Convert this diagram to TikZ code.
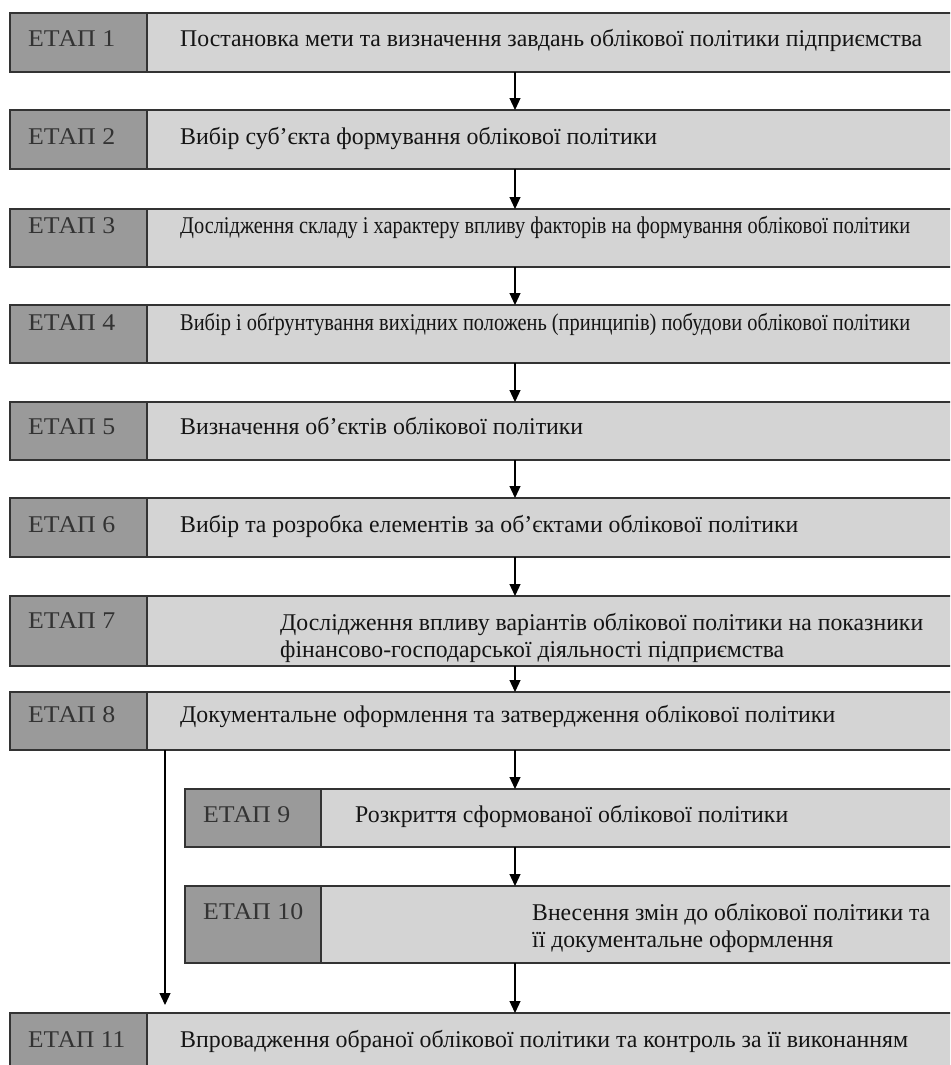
\documentclass[tikz,border=0pt]{standalone}
\usepackage{fontspec}
\setmainfont{Liberation Serif}
\usetikzlibrary{arrows.meta}
\definecolor{darkC}{HTML}{9A9A9A}
\definecolor{lightC}{HTML}{D4D4D4}
\definecolor{lineC}{HTML}{333333}
\newcommand\fitw[2]{\resizebox{#1pt}{\height}{#2}}
\begin{document}
\begin{tikzpicture}[x=1pt,y=-1pt,
 cellD/.style={draw=lineC, fill=darkC, line width=1.3pt, inner sep=0pt, outer sep=0pt, anchor=north west},
 cellL/.style={draw=lineC, fill=lightC, line width=1.3pt, inner sep=0pt, outer sep=0pt, anchor=north west},
 lab/.style={inner sep=0pt, anchor=base west, font=\fontsize{24}{28}\selectfont, text=black!80},
 txt/.style={inner sep=0pt, anchor=base west, font=\fontsize{24}{28}\selectfont, text=black!92},
 arr/.style={draw=black, line width=1.2pt, -{Triangle[width=11pt,length=12pt]}}]
\clip (0,0) rectangle (950,1065);
\fill[white] (0,0) rectangle (950,1065);
% row 1
\node[cellD, minimum width=137pt, minimum height=59pt] (d1) at (10,13) {};
\node[cellL, minimum width=808pt, minimum height=59pt] (b1) at (147,13) {};
\node[lab] (t1) at (28,47) {\fitw{87}{ЕТАП 1}};
\node[txt] (x1) at (180,47) {\fitw{742}{Постановка мети та визначення завдань облікової політики підприємства}};
% row 2
\node[cellD, minimum width=137pt, minimum height=59pt] (d2) at (10,110) {};
\node[cellL, minimum width=808pt, minimum height=59pt] (b2) at (147,110) {};
\node[lab] (t2) at (28,144) {\fitw{87}{ЕТАП 2}};
\node[txt] (x2) at (180,144) {\fitw{477}{Вибір суб’єкта формування облікової політики}};
% row 3
\node[cellD, minimum width=137pt, minimum height=58pt] (d3) at (10,209) {};
\node[cellL, minimum width=808pt, minimum height=58pt] (b3) at (147,209) {};
\node[lab] (t3) at (28,233) {\fitw{87}{ЕТАП 3}};
\node[txt] (x3) at (180,233) {\fitw{730}{Дослідження складу і характеру впливу факторів на формування облікової політики}};
% row 4
\node[cellD, minimum width=137pt, minimum height=58pt] (d4) at (10,305) {};
\node[cellL, minimum width=808pt, minimum height=58pt] (b4) at (147,305) {};
\node[lab] (t4) at (28,330) {\fitw{87}{ЕТАП 4}};
\node[txt] (x4) at (180,330) {\fitw{730}{Вибір і обґрунтування вихідних положень (принципів) побудови облікової політики}};
% row 5
\node[cellD, minimum width=137pt, minimum height=58pt] (d5) at (10,402) {};
\node[cellL, minimum width=808pt, minimum height=58pt] (b5) at (147,402) {};
\node[lab] (t5) at (28,434) {\fitw{87}{ЕТАП 5}};
\node[txt] (x5) at (180,434) {\fitw{403}{Визначення об’єктів облікової політики}};
% row 6
\node[cellD, minimum width=137pt, minimum height=59pt] (d6) at (10,498) {};
\node[cellL, minimum width=808pt, minimum height=59pt] (b6) at (147,498) {};
\node[lab] (t6) at (28,532) {\fitw{87}{ЕТАП 6}};
\node[txt] (x6) at (180,532) {\fitw{618}{Вибір та розробка елементів за об’єктами облікової політики}};
% row 7
\node[cellD, minimum width=137pt, minimum height=70pt] (d7) at (10,596) {};
\node[cellL, minimum width=808pt, minimum height=70pt] (b7) at (147,596) {};
\node[lab] (t7) at (28,628) {\fitw{87}{ЕТАП 7}};
\node[txt] (x7a) at (280,630) {\fitw{643}{Дослідження впливу варіантів облікової політики на показники}};
\node[txt] (x7b) at (280,657) {\fitw{504}{фінансово-господарської діяльності підприємства}};
% row 8
\node[cellD, minimum width=137pt, minimum height=58pt] (d8) at (10,692) {};
\node[cellL, minimum width=808pt, minimum height=58pt] (b8) at (147,692) {};
\node[lab] (t8) at (28,722) {\fitw{87}{ЕТАП 8}};
\node[txt] (x8) at (180,722) {\fitw{655}{Документальне оформлення та затвердження облікової політики}};
% row 9
\node[cellD, minimum width=136pt, minimum height=58pt] (d9) at (185,789) {};
\node[cellL, minimum width=634pt, minimum height=58pt] (b9) at (321,789) {};
\node[lab] (t9) at (203,822) {\fitw{87}{ЕТАП 9}};
\node[txt] (x9) at (355,822) {\fitw{433}{Розкриття сформованої облікової політики}};
% row 10
\node[cellD, minimum width=136pt, minimum height=77pt] (d10) at (185,886) {};
\node[cellL, minimum width=634pt, minimum height=77pt] (b10) at (321,886) {};
\node[lab] (t10) at (203,919) {\fitw{100}{ЕТАП 10}};
\node[txt] (x10a) at (532,920) {\fitw{398}{Внесення змін до облікової політики та}};
\node[txt] (x10b) at (532,947) {\fitw{301}{її документальне оформлення}};
% row 11
\node[cellD, minimum width=137pt, minimum height=62pt] (d11) at (10,1013) {};
\node[cellL, minimum width=808pt, minimum height=62pt] (b11) at (147,1013) {};
\node[lab] (t11) at (28,1047) {\fitw{97}{ЕТАП 11}};
\node[txt] (x11) at (180,1047) {\fitw{728}{Впровадження обраної облікової політики та контроль за її виконанням}};
% connectors
\coordinate (ax) at (515,0);
\coordinate (lt) at (165,1005);
\draw[arr] (b1.south -| ax) -- (b2.north -| ax);
\draw[arr] (b2.south -| ax) -- (b3.north -| ax);
\draw[arr] (b3.south -| ax) -- (b4.north -| ax);
\draw[arr] (b4.south -| ax) -- (b5.north -| ax);
\draw[arr] (b5.south -| ax) -- (b6.north -| ax);
\draw[arr] (b6.south -| ax) -- (b7.north -| ax);
\draw[arr] (b7.south -| ax) -- (b8.north -| ax);
\draw[arr] (b8.south -| ax) -- (b9.north -| ax);
\draw[arr] (b9.south -| ax) -- (b10.north -| ax);
\draw[arr] (b10.south -| ax) -- (b11.north -| ax);
\draw[arr] (b8.south -| lt) -- (lt);
\end{tikzpicture}
\end{document}
